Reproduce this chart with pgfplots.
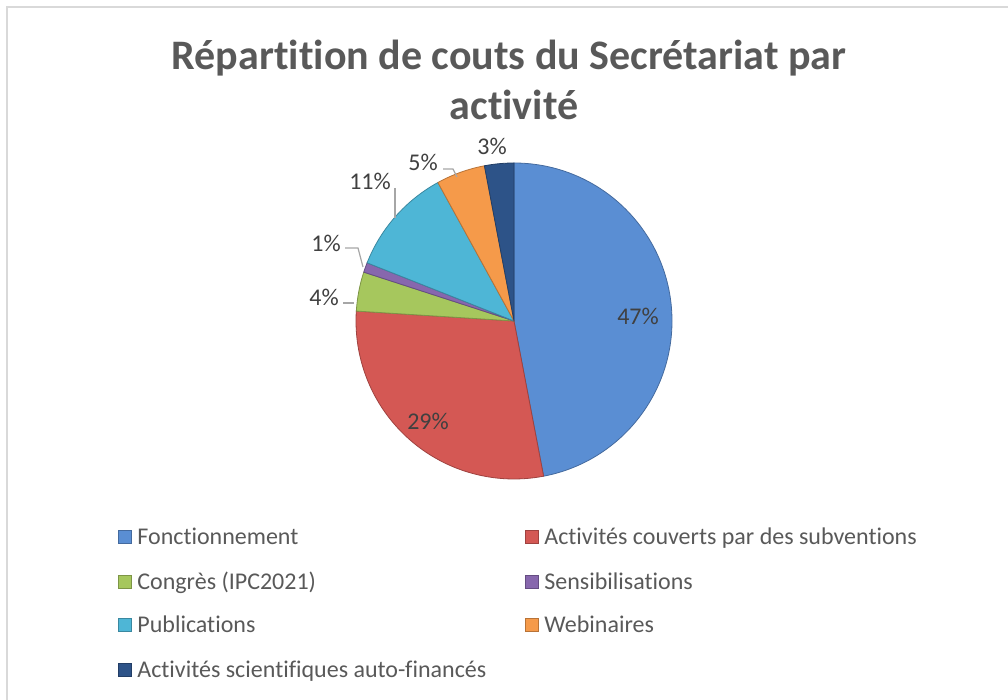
\documentclass[border=0pt]{standalone}
\usepackage{pgfplots}
\usepackage{pgfplotstable}
\pgfplotsset{compat=1.18}
\usepackage{fontspec}
\setmainfont{Carlito}[Ligatures=NoCommon]
\definecolor{cblue}{HTML}{5A8ED3}
\definecolor{cred}{HTML}{D45854}
\definecolor{cgreen}{HTML}{A6C75D}
\definecolor{cpurple}{HTML}{8767AD}
\definecolor{caqua}{HTML}{4EB6D6}
\definecolor{corange}{HTML}{F59A4A}
\definecolor{cnavy}{HTML}{2D5388}
\definecolor{titlegray}{HTML}{595959}
\definecolor{labelgray}{HTML}{404040}
\definecolor{leadergray}{HTML}{A6A6A6}
\definecolor{bordergray}{HTML}{D9D9D9}

% value (percent), colour, label position (pixels, y from bottom)
\pgfplotstableread[col sep=comma]{
name,value,color,lx,ly
Fonctionnement,47,cblue,638,384
Activités couverts par des subventions,29,cred,428,279
Congrès (IPC2021),4,cgreen,324,403
Sensibilisations,1,cpurple,326,457
Publications,11,caqua,370,519
Webinaires,5,corange,423,538
Activités scientifiques auto-financés,3,cnavy,492,554
}\piedata

\begin{document}
\begin{tikzpicture}
\path[use as bounding box] (0,0) rectangle (504pt,350pt);
\begin{axis}[
  width=504pt, height=350pt, scale only axis,
  xmin=0, xmax=1008, ymin=0, ymax=700,
  axis lines=none, clip=false,
]
% border
\draw[bordergray, line width=1pt] (axis cs:7,0) -- (axis cs:7,693) -- (axis cs:1008,693);
% title
\node[anchor=base, font=\fontsize{21}{24}\selectfont\bfseries, text=titlegray, inner sep=0pt]
  at (axis cs:509,630) {Répartition de couts du Secrétariat par};
\node[anchor=base, font=\fontsize{21}{24}\selectfont\bfseries, text=titlegray, inner sep=0pt]
  at (axis cs:514,580) {activité};
% pie
\pgfplotstablegetrowsof{\piedata}
\pgfmathtruncatemacro{\nrows}{\pgfplotsretval-1}
\def\cum{0}
\pgfplotsforeachungrouped \i in {0,...,\nrows}{%
  \pgfplotstablegetelem{\i}{value}\of\piedata \let\val\pgfplotsretval
  \pgfplotstablegetelem{\i}{color}\of\piedata \let\col\pgfplotsretval
  \pgfplotstablegetelem{\i}{lx}\of\piedata \let\lx\pgfplotsretval
  \pgfplotstablegetelem{\i}{ly}\of\piedata \let\ly\pgfplotsretval
  \pgfmathsetmacro{\sa}{90-3.6*\cum}
  \pgfmathsetmacro{\ea}{90-3.6*(\cum+\val)}
  \edef\doit{%
    \noexpand\fill[fill=\col, draw=\col!75!black, line width=0.4pt, line join=round]
      (axis cs:514,379) -- ++(\sa:79pt) arc[start angle=\sa, end angle=\ea, radius=79pt] -- cycle;
    \noexpand\node[font=\noexpand\fontsize{12}{14}\noexpand\selectfont, text=labelgray, inner sep=0pt]
      at (axis cs:\lx,\ly) {\val\noexpand\%};
  }%
  \doit
  \pgfmathsetmacro{\cum}{\cum+\val}
}
% leader lines
\draw[leadergray, line width=0.6pt] (axis cs:443,531) -- (axis cs:453,531) -- (axis cs:457,523);
\draw[leadergray, line width=0.6pt] (axis cs:395,512) -- (axis cs:395,482);
\draw[leadergray, line width=0.6pt] (axis cs:345,452) -- (axis cs:358,452) -- (axis cs:363,433);
\draw[leadergray, line width=0.6pt] (axis cs:343,397) -- (axis cs:354,397);
% legend
\foreach \c/\x/\y/\t in {cblue/118/163/Fonctionnement,
  cred/525/163/Activités couverts par des subventions,
  cgreen/118/118/Congrès (IPC2021),
  cpurple/525/118/Sensibilisations,
  caqua/118/75/Publications,
  corange/525/75/Webinaires,
  cnavy/118/30/Activités scientifiques auto-financés}{
  \edef\doleg{%
    \noexpand\fill[fill=\c, draw=\c!75!black, line width=0.3pt] (axis cs:\x,\y) ++(0,-3.25pt) rectangle ++(6.5pt,6.5pt);
    \noexpand\node[anchor=base west, inner sep=0pt, font=\noexpand\fontsize{12}{14}\noexpand\selectfont, text=titlegray]
      at (axis cs:\x,\y) [xshift=9.5pt, yshift=-3.9pt] {\t};
  }\doleg
}
\end{axis}
\end{tikzpicture}
\end{document}
